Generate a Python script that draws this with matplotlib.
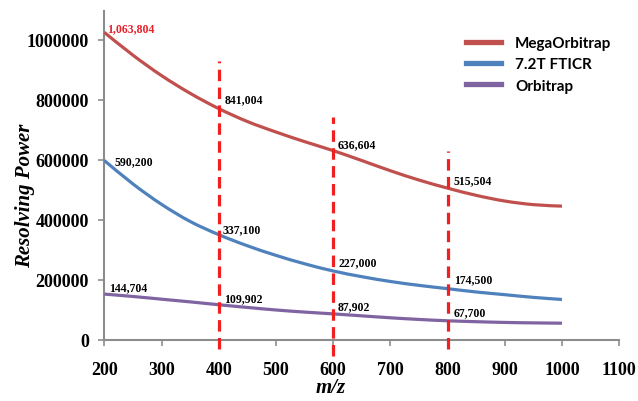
import matplotlib
matplotlib.use("Agg")
import matplotlib.pyplot as plt
from matplotlib.path import Path
from matplotlib.patches import PathPatch
from matplotlib.lines import Line2D

mz = [200, 250, 300, 350, 400, 450, 500, 550, 600, 650, 700, 750, 800, 850, 900, 950, 1000]
mega_orbitrap = [1024000, 948000, 880000, 821000, 770000, 727000, 692000, 660000, 630000,
                 597000, 563000, 532000, 505000, 481000, 462000, 450000, 445000]
fticr = [597000, 519000, 451000, 394000, 350000, 313000, 281000, 253000, 229000,
         210000, 194000, 181000, 170000, 159000, 150000, 141000, 134000]
orbitrap = [152000, 144000, 135000, 126000, 116500, 107500, 99000, 92000, 86000,
            79500, 73000, 67500, 63000, 60000, 57500, 56000, 55000]

series_names = ["MegaOrbitrap", "7.2T FTICR", "Orbitrap"]

marker_mz = [400, 600, 800]
marker_tops = [929000, 742000, 630000]
marker_bottoms = [-31000, -53000, -31000]

label_texts = ["1,063,804", "841,004", "636,604", "515,504",
               "590,200", "337,100", "227,000", "174,500",
               "144,704", "109,902", "87,902", "67,700"]
label_x = [205, 410, 608, 811, 217, 407, 610, 811, 209, 410, 608, 811]
label_y = [1038000, 802000, 652000, 530000, 595000, 367000, 258000, 202000,
           175000, 139000, 113000, 93000]
label_colors = ["#E8202A"] + ["black"] * 11

x_ticks = [200, 300, 400, 500, 600, 700, 800, 900, 1000, 1100]
y_ticks = [0, 200000, 400000, 600000, 800000, 1000000]


def smooth_path(xs, ys):
    """Excel-like smoothed line (Catmull-Rom as cubic Bezier) through the points."""
    n = len(xs)
    verts = [(xs[0], ys[0])]
    codes = [Path.MOVETO]
    for i in range(n - 1):
        i0 = max(i - 1, 0)
        i3 = min(i + 2, n - 1)
        c1 = (xs[i] + (xs[i + 1] - xs[i0]) / 6.0, ys[i] + (ys[i + 1] - ys[i0]) / 6.0)
        c2 = (xs[i + 1] - (xs[i3] - xs[i]) / 6.0, ys[i + 1] - (ys[i3] - ys[i]) / 6.0)
        verts += [c1, c2, (xs[i + 1], ys[i + 1])]
        codes += [Path.CURVE4] * 3
    return Path(verts, codes)


fig = plt.figure(figsize=(6.38, 4.02), dpi=100)
ax = fig.add_axes([0.1635, 0.1525, 0.807, 0.8175])

colors = ["#C0504D", "#4F81BD", "#8064A2"]
handles = []
for vals, name, c in zip([mega_orbitrap, fticr, orbitrap], series_names, colors):
    patch = PathPatch(smooth_path(mz, vals), facecolor="none", edgecolor=c,
                      lw=2.3, transform=ax.transData, zorder=3)
    ax.add_patch(patch)
    handles.append(Line2D([], [], color=c, lw=3.8, label=name))

for xm, yt, yb in zip(marker_mz, marker_tops, marker_bottoms):
    ax.plot([xm, xm], [yb, yt], color="#F02020", lw=2.3,
            linestyle=(0, (3.6, 2.0)), clip_on=False, zorder=5)

for t, x, y, c in zip(label_texts, label_x, label_y, label_colors):
    ax.text(x, y, t, color=c, fontsize=8.5, fontweight="bold",
            family="Liberation Serif", ha="left", va="center", zorder=6)

ax.set_xlim(200, 1100)
ax.set_ylim(0, 1095000)
ax.set_xticks(x_ticks)
ax.set_yticks(y_ticks)
ax.set_xticklabels([str(v) for v in x_ticks])
ax.set_yticklabels([str(v) for v in y_ticks])
for lab in ax.get_xticklabels() + ax.get_yticklabels():
    lab.set_family("Liberation Serif")
    lab.set_fontweight("bold")
    lab.set_fontsize(13)

for s in ["top", "right"]:
    ax.spines[s].set_visible(False)
for s in ["left", "bottom"]:
    ax.spines[s].set_color("#8C8C8C")
    ax.spines[s].set_linewidth(1.5)
ax.tick_params(axis="both", direction="out", length=4, width=1.2, color="#8C8C8C")
ax.tick_params(axis="y", pad=7)
ax.tick_params(axis="x", pad=11)

ax.set_ylabel("Resolving Power", family="Liberation Serif", fontweight="bold",
              style="italic", fontsize=15)
ax.yaxis.set_label_coords(-0.135, 0.44)
ax.set_xlabel("m/z", family="Liberation Serif", fontweight="bold",
              style="italic", fontsize=15)
ax.xaxis.set_label_coords(0.44, -0.115)

leg = ax.legend(handles=handles, loc="upper left", bbox_to_anchor=(0.676, 0.966),
                frameon=False,
                prop={"family": "Lato", "weight": "bold", "size": 11},
                handlelength=2.3, handletextpad=0.9, labelspacing=0.48)

fig.savefig("out.png", dpi=100)
